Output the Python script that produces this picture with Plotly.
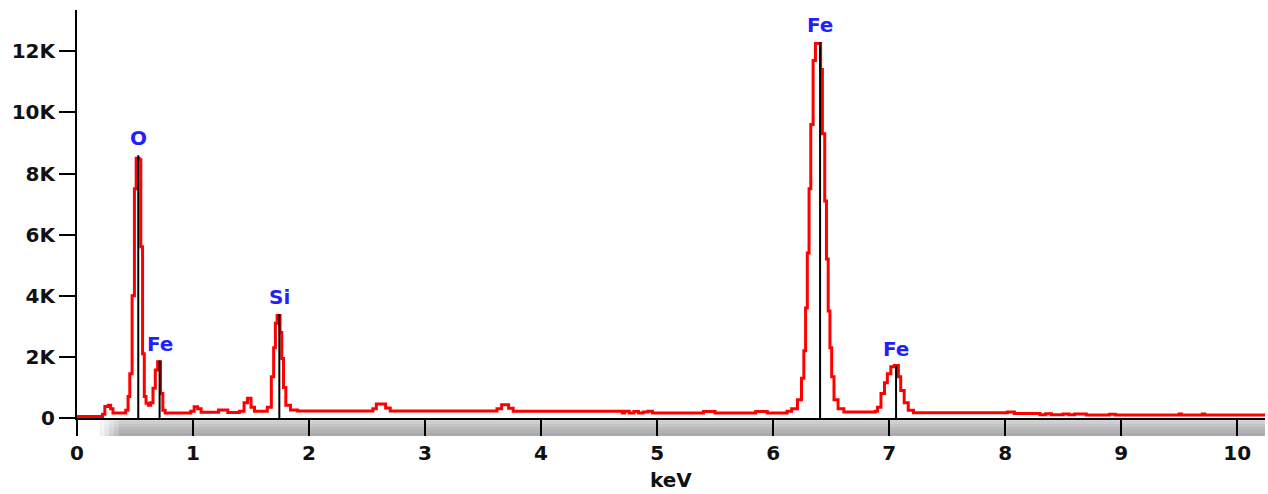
import plotly.graph_objects as go

# EDS spectrum (step line, value holds until next energy)
energy_kev = [0.00, 0.22, 0.24, 0.27, 0.29, 0.31, 0.42, 0.44, 0.455, 0.475, 0.495, 0.51, 0.535, 0.55,
              0.565, 0.58, 0.595, 0.615, 0.635, 0.655, 0.675, 0.695, 0.72, 0.74, 0.76, 0.98, 1.01, 1.04,
              1.07, 1.22, 1.30, 1.40, 1.44, 1.47, 1.50, 1.53, 1.64, 1.675, 1.695, 1.71, 1.725, 1.75,
              1.765, 1.78, 1.80, 1.84, 1.90, 2.55, 2.58, 2.66, 2.70, 3.62, 3.66, 3.72, 3.76, 4.70,
              4.72, 4.76, 4.80, 4.84, 4.88, 4.92, 4.96, 5.40, 5.50, 5.85, 5.95, 6.12, 6.16, 6.21,
              6.245, 6.265, 6.28, 6.295, 6.31, 6.325, 6.345, 6.365, 6.41, 6.425, 6.445, 6.46, 6.475,
              6.49, 6.505, 6.525, 6.56, 6.61, 6.88, 6.90, 6.93, 6.96, 6.985, 7.015, 7.045, 7.08, 7.10,
              7.13, 7.165, 7.21, 8.02, 8.08, 8.30, 8.35, 8.40, 8.50, 8.55, 8.60, 8.70, 8.90, 8.95,
              9.50, 9.52, 9.70, 9.72, 10.24]
counts = [50, 120, 380, 420, 300, 160, 250, 700, 1450, 4000, 7500, 8500, 8450, 5600,
          2100, 700, 480, 420, 500, 970, 1570, 1840, 800, 250, 160, 220, 370, 300,
          190, 260, 180, 220, 500, 650, 350, 220, 350, 1350, 2300, 3100, 3350, 2800,
          1950, 1000, 420, 260, 230, 300, 460, 330, 230, 300, 430, 320, 220, 160,
          220, 160, 210, 160, 200, 220, 160, 210, 160, 210, 160, 220, 300, 600,
          1300, 2200, 3600, 5400, 7500, 9600, 11700, 12250, 11400, 9300, 7100, 5200, 3500,
          2300, 1350, 600, 300, 200, 220, 350, 800, 1150, 1450, 1680, 1720, 1350, 900,
          500, 250, 170, 200, 150, 110, 140, 110, 130, 110, 130, 100, 120, 100,
          130, 100, 130, 100, 100]

# Peak markers
peak_labels = ["O", "Fe", "Si", "Fe", "Fe"]
peak_energy = [0.528, 0.712, 1.744, 6.405, 7.06]
peak_height = [8600, 1880, 3400, 12300, 1700]

x_ticks = [0, 1, 2, 3, 4, 5, 6, 7, 8, 9, 10]
y_tickvals = [0, 2000, 4000, 6000, 8000, 10000, 12000]
y_ticktext = ["0", "2K", "4K", "6K", "8K", "10K", "12K"]

X_MAX = 10.24
Y_MAX = 13350

fig = go.Figure()

fig.add_trace(go.Scatter(
    x=energy_kev, y=counts, mode="lines",
    line=dict(color="#ff0000", width=3, shape="hv"),
    hoverinfo="skip", showlegend=False,
))

shapes = []
# grey shadow band under the x axis
band_cols = ["#d8d8d8", "#cecece", "#c4c4c6", "#bababc", "#b2b2b4", "#aaaaae"]
n = len(band_cols)
band_h = 0.044
for i, c in enumerate(band_cols):
    shapes.append(dict(type="rect", xref="x", yref="paper",
                       x0=0.2, x1=X_MAX, y0=-band_h * i / n, y1=-band_h * (i + 1) / n,
                       fillcolor=c, line=dict(width=0), layer="below"))
# fade at the left end of the band
for j, op in enumerate([0.85, 0.65, 0.45, 0.25]):
    shapes.append(dict(type="rect", xref="x", yref="paper",
                       x0=0.2 + 0.04 * j, x1=0.24 + 0.04 * j, y0=0, y1=-band_h,
                       fillcolor="white", opacity=op, line=dict(width=0), layer="below"))

# black marker lines
for e, h in zip(peak_energy, peak_height):
    shapes.append(dict(type="line", xref="x", yref="y", x0=e, x1=e, y0=0, y1=h,
                       line=dict(color="black", width=2)))

annotations = []
for lab, e, h in zip(peak_labels, peak_energy, peak_height):
    annotations.append(dict(x=e, y=h, xref="x", yref="y", text=lab, showarrow=False,
                            yanchor="bottom", yshift=3,
                            font=dict(family="DejaVu Sans", size=20, color="#1f1fff", weight="bold")))
annotations.append(dict(x=0.5, y=-0.152, xref="paper", yref="paper", text="keV", showarrow=False,
                        yanchor="middle",
                        font=dict(family="DejaVu Sans", size=20, color="#111111", weight="bold")))

tickfont = dict(family="DejaVu Sans", size=20, color="#111111", weight="bold")

fig.update_layout(
    width=1268, height=494,
    margin=dict(l=77, r=3, t=10, b=76, autoexpand=False),
    paper_bgcolor="white", plot_bgcolor="white",
    shapes=shapes, annotations=annotations,
    xaxis=dict(range=[0, X_MAX], tickvals=x_ticks, showgrid=False, zeroline=False,
               showline=True, linecolor="black", linewidth=2, automargin=False,
               ticks="outside", ticklen=16, tickwidth=2, tickcolor="black",
               tickfont=tickfont),
    yaxis=dict(range=[0, Y_MAX], tickvals=y_tickvals, ticktext=y_ticktext,
               showgrid=False, zeroline=False, automargin=False,
               showline=True, linecolor="black", linewidth=2,
               ticks="outside", ticklen=16, tickwidth=2, tickcolor="black",
               tickfont=tickfont),
)

fig.write_html("out.html",
               config={"displayModeBar": False, "staticPlot": True},
               post_script="document.body.style.margin='0';document.body.style.overflow='hidden';")
